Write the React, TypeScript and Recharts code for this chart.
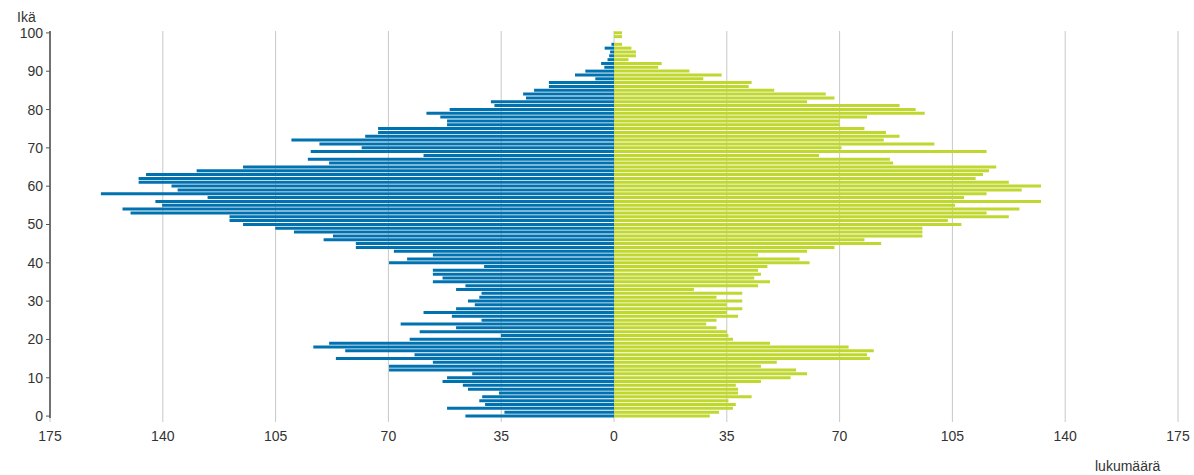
import React from "react";
import {
  BarChart,
  Bar,
  XAxis,
  YAxis,
  CartesianGrid,
} from "recharts";

// age groups 0..100
const AGES = Array.from({ length: 101 }, (_, i) => i);

// men, counted per age (0..100), drawn to the left
const MALE = [
  46.1, 34, 51.8, 40, 41.8, 40.9, 35.7, 45.3, 46.9, 53.2,
  51.8, 44, 69.8, 69.8, 56.2, 86.3, 61.9, 83.4, 93.3, 88.4,
  63.4, 35.1, 60.3, 49, 66.2, 41.1, 50.3, 59.1, 49, 43.2,
  45.3, 41.8, 41.1, 49, 46.1, 56.2, 53.2, 56.2, 56.2, 40.3,
  69.8, 64.2, 56.2, 68.3, 80.1, 80.1, 90.1, 87.2, 99.3, 105.1,
  115.1, 119.3, 119.3, 150, 152.5, 140.2, 142.3, 126.1, 159.2, 135.4,
  137.3, 147.5, 147.5, 145.2, 129.5, 115.1, 88.4, 95, 59.1, 94.1,
  78.3, 91.4, 100.1, 77.2, 73.2, 73.2, 51.8, 51.8, 53.9, 58.2,
  51, 37.1, 38.2, 27.3, 28.2, 24.8, 20.2, 20.2, 5.8, 12.1,
  8.9, 3, 4, 2, 1.5, 1.2, 2.9, 0.8, 0, 0, 0,
];

// women, counted per age (0..100), drawn to the right
const FEMALE = [
  29.7, 32.6, 36.9, 37.8, 35.5, 42.7, 38.5, 38.5, 37.8, 45.6,
  54.8, 59.9, 56.5, 45.6, 50.5, 79.4, 78.5, 80.6, 72.8, 48.4,
  36.9, 35.5, 35, 31.8, 28.6, 31.8, 38.5, 35, 39.8, 35,
  39.8, 31.8, 39.8, 24.8, 44.7, 48.4, 43.5, 45.6, 44.7, 47.6,
  60.7, 57.6, 44.7, 59.9, 68.4, 82.9, 77.7, 95.7, 95.7, 95.7,
  107.8, 103.6, 122.5, 115.6, 125.8, 105.8, 132.5, 108.6, 115.6, 126.5,
  132.5, 122.5, 112.2, 114.5, 116.4, 118.6, 86.6, 85.6, 63.6, 115.6,
  70.6, 99.4, 83.7, 88.6, 84.4, 77.7, 70, 70, 78.5, 96.4,
  93.6, 88.6, 59.9, 68.4, 65.7, 49.7, 41.8, 42.7, 27.7, 33.4,
  23.4, 13.7, 14.8, 4.5, 6.8, 6.8, 5.4, 2.5, 0, 2.5, 2.5,
];

const X_TICKS = [-175, -140, -105, -70, -35, 0, 35, 70, 105, 140, 175];

const BLUE = "#0072b0";
const GREEN = "#c0d72f";
const FONT = "'Liberation Sans', Arial, sans-serif";

// oldest first so that 100 sits at the top
const data = AGES.slice()
  .reverse()
  .map((age) => ({ age, male: -MALE[age], female: FEMALE[age] }));

export default function App() {
  return (
    <div
      style={{
        position: "absolute",
        left: 0,
        top: 0,
        width: 1194,
        height: 475,
        background: "#fff",
        fontFamily: FONT,
      }}
    >
      <BarChart
        width={1194}
        height={475}
        data={data}
        layout="vertical"
        stackOffset="sign"
        barCategoryGap="8%"
        margin={{ top: 31, right: 16, bottom: 27, left: 0 }}
      >
        <CartesianGrid horizontal={false} stroke="#c8c8c8" />
        <XAxis
          type="number"
          domain={[-175, 175]}
          ticks={X_TICKS}
          tickFormatter={(v: number) => String(Math.abs(v))}
          axisLine={false}
          tickLine={{ stroke: "#c8c8c8" }}
          tickSize={4}
          tickMargin={9}
          height={30}
          tick={{ fontSize: 14, fill: "#333", fontFamily: FONT }}
        />
        <YAxis
          type="category"
          dataKey="age"
          interval={9}
          width={50}
          axisLine={{ stroke: "#000" }}
          tickLine={{ stroke: "#555" }}
          tickSize={4}
          tickMargin={3}
          tick={{ fontSize: 14, fill: "#333", fontFamily: FONT }}
        />
        <Bar dataKey="male" stackId="a" fill={BLUE} isAnimationActive={false} />
        <Bar dataKey="female" stackId="a" fill={GREEN} isAnimationActive={false} />
      </BarChart>
      <span
        style={{
          position: "absolute",
          left: 17,
          top: 9,
          fontSize: 14,
          color: "#333",
        }}
      >
        Ikä
      </span>
      <span
        style={{
          position: "absolute",
          left: 1095,
          top: 458,
          fontSize: 14,
          color: "#333",
        }}
      >
        lukumäärä
      </span>
    </div>
  );
}
